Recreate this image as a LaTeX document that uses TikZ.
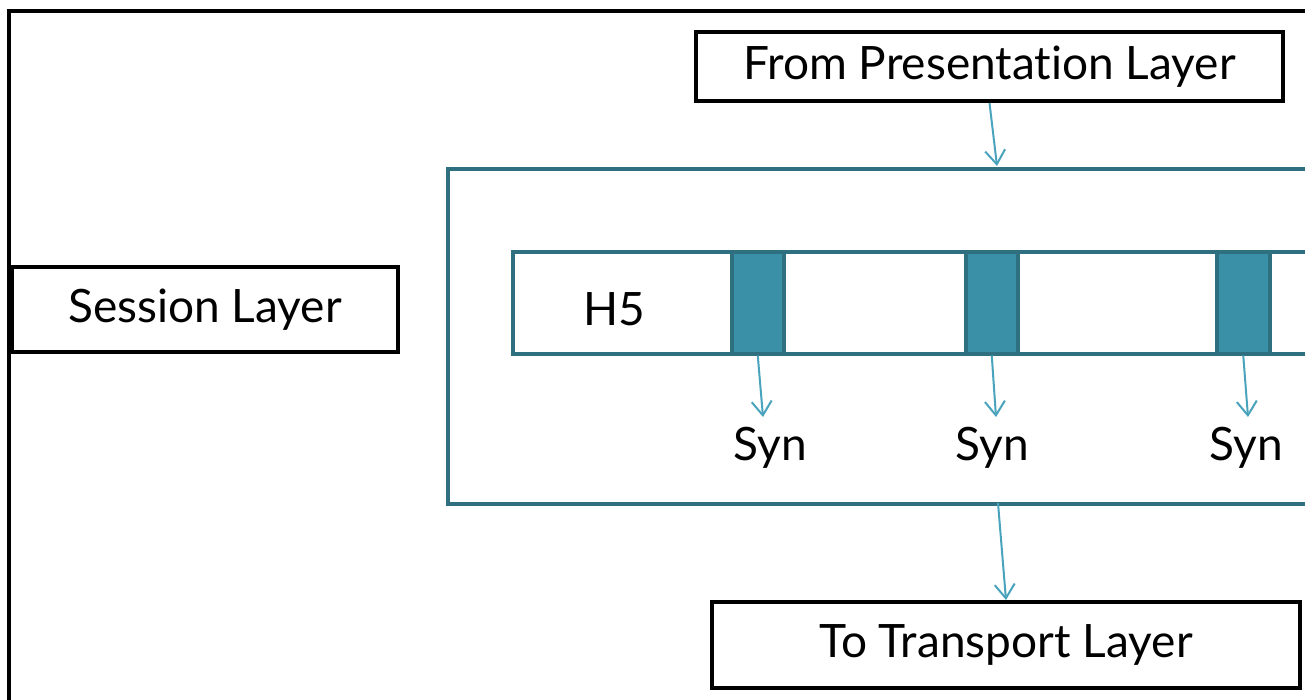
\documentclass[tikz,border=0pt]{standalone}
\usepackage{fontspec}
\setmainfont[Ligatures=NoCommon]{Lato}
\usetikzlibrary{arrows.meta}
\definecolor{tealdark}{HTML}{2F7080}
\definecolor{tealfill}{HTML}{3A90A6}
\definecolor{tealarrow}{HTML}{4AA3BC}
\newcommand\lblfont{\fontsize{46}{50}\selectfont}
\tikzset{
  blackbox/.style={draw=black, line width=4pt, fill=white, inner sep=0pt, font=\lblfont},
  tealbox/.style={draw=tealdark, line width=4pt, inner sep=0pt},
  barbox/.style={draw=tealdark, line width=3.5pt, fill=white, inner sep=0pt, anchor=north west},
  cellbox/.style={draw=tealdark, line width=3.5pt, fill=tealfill, inner sep=0pt, anchor=north west, minimum height=102pt},
  lbl/.style={inner sep=0pt, font=\lblfont, anchor=base},
  arr/.style={draw=tealarrow, line width=2pt, -{Straight Barb[length=14pt,width=20pt]}}
}
\begin{document}
\begin{tikzpicture}[x=1pt,y=-1pt]
\useasboundingbox (0,0) rectangle (1305,699);
\clip (0,0) rectangle (1305,699);
% outer frame
\draw[line width=3.5pt] (9,720) -- (9,11) -- (1330,11);
% boxes
\node[blackbox, minimum width=587pt, minimum height=69pt] (fromP) at (989.5,66.5) {From Presentation Layer};
\node[blackbox, minimum width=386pt, minimum height=85pt] (session) at (205,309.5) {\raisebox{-3pt}{Session Layer}};
\node[blackbox, minimum width=588pt, minimum height=86pt] (toT) at (1006,645) {To Transport Layer};
\node[tealbox, anchor=north west, minimum width=900pt, minimum height=335pt] (big) at (446,167) {};
\node[barbox, minimum width=840pt, minimum height=102pt] (bar) at (511,250) {};
\node[cellbox, minimum width=52pt] (c1) at (730,250) {};
\node[cellbox, minimum width=52pt] (c2) at (964,250) {};
\node[cellbox, minimum width=53pt] (c3) at (1215,250) {};
\node[lbl] (h5) at (614.5,325) {H5};
\node[lbl] (s1) at (770,460) {Syn};
\node[lbl] (s2) at (992,460) {Syn};
\node[lbl] (s3) at (1246,460) {Syn};
% arrow ends
\coordinate (t1) at (997,166);
\coordinate (b1) at (998,503);
\coordinate (e1) at (763,417);
\coordinate (e2) at (996,417);
\coordinate (e3) at (1248,417);
\draw[arr] (fromP.south) -- (t1);
\draw[arr] (b1) -- (toT.north);
\draw[arr] (c1.south) -- (e1);
\draw[arr] (c2.south) -- (e2);
\draw[arr] (c3.south) -- (e3);
\end{tikzpicture}
\end{document}
